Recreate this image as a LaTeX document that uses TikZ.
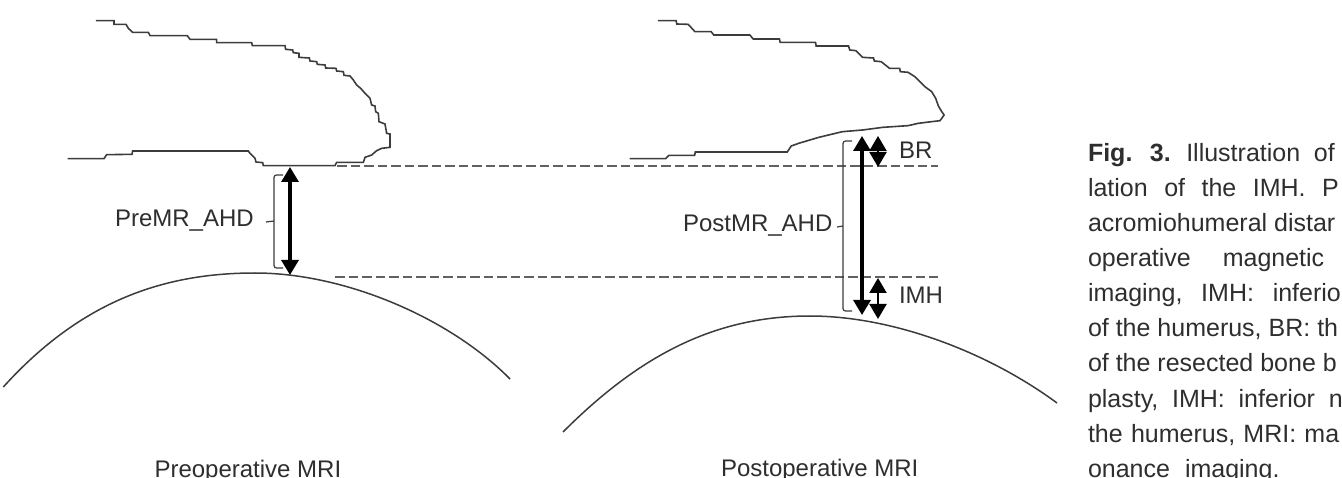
\documentclass[tikz,border=0pt]{standalone}
\usepackage{fontspec}
\setmainfont{Liberation Sans}
\usetikzlibrary{arrows.meta}
\definecolor{inkline}{HTML}{3C3C3C}
\definecolor{inktext}{HTML}{2E2E2E}
\tikzset{
  bone/.style={draw=inkline,line width=1.6pt,line join=miter},
  humerus/.style={draw=inkline,line width=1.5pt},
  level/.style={draw=black!62,line width=1.6pt,dash pattern=on 9.5pt off 4pt},
  bracketline/.style={draw=inkline,line width=1.2pt,rounded corners=2.5pt},
  bigarrow/.style={draw=black,line width=3.2pt,{Triangle[length=15pt,width=17pt]}-{Triangle[length=15pt,width=17pt]}},
  smallarrow/.style={draw=black,line width=2.2pt,{Triangle[length=15pt,width=17pt]}-{Triangle[length=15pt,width=17pt]}},
  label/.style={anchor=base west,inner sep=0pt,outer sep=0pt,text=inktext,font=\fontsize{24}{28}\selectfont},
  capt/.style={anchor=base west,inner sep=0pt,outer sep=0pt,text=inktext,font=\fontsize{25}{30}\selectfont}
}
\newcommand{\capline}[3]{\node[capt] (#1) at (1088,#2) {#3};}
\begin{document}
\begin{tikzpicture}[x=1pt,y=-1pt]
\useasboundingbox (0,0) rectangle (1342,478);
\clip (0,0) rectangle (1342,478);

% Acromion outline, preoperative (coordinates at three times pixel size)
\begin{scope}[x=0.33333pt,y=-0.33333pt]
\draw[bone] (288,62)--(342,62)--(342,73)--(378,73)--(385,85)--(398,97)--(445,97)--(450,107)--(562,107)--(570,118)--(650,118)--(650,128)--(755,128)--(757,137)--(855,137)--(857,148)--(878,150)--(880,158)--(897,160)--(897,172)--(928,174)--(930,183)--(950,185)--(952,193)--(975,195)--(977,204)--(1008,205)--(1010,213)--(1030,215)--(1032,226)--(1050,228)--(1060,240)--(1070,255)--(1082,265)--(1095,280)--(1110,295)--(1115,315)--(1125,318)--(1127,335)--(1135,340)--(1137,365)--(1155,372)--(1160,400)--(1170,402)--(1170,442)--(1145,445)--(1130,452)--(1115,465)--(1095,472)--(1090,487)--(1010,487)--(1005,497)--(790,497)--(788,488)--(768,486)--(765,475)--(750,460)--(745,453)--(398,453)--(396,463)--(320,464)--(312,476)--(203,476);
\end{scope}

% Acromion outline, postoperative
\begin{scope}[xshift=600pt,x=0.3367pt,y=-0.33333pt]
\draw[bone] (172,62)--(226,62)--(228,72)--(262,73)--(282,95)--(330,95)--(338,105)--(445,105)--(455,117)--(533,117)--(535,127)--(640,127)--(642,138)--(738,138)--(742,150)--(760,152)--(780,172)--(812,174)--(815,183)--(835,185)--(860,205)--(890,205)--(892,215)--(915,217)--(935,230)--(950,245)--(965,260)--(985,275)--(997,295)--(1005,318)--(1015,335)--(1022,345)--(1010,362)--(985,365)--(945,370)--(915,377)--(840,382)--(780,390)--(720,395)--(650,412)--(590,430)--(568,438)--(556,456)--(283,456)--(281,466)--(205,466)--(195,476)--(88,476);
\end{scope}

% Humeral heads
\draw[humerus] (3.3,387) .. controls (82,300) and (165,273) .. (255,273) .. controls (345,273) and (450,318) .. (510,379);
\draw[humerus] (563,432) .. controls (640,355) and (715,316) .. (810,316) .. controls (890,316) and (985,350) .. (1057,403);

% Reference levels
\coordinate (topL) at (337,166);
\coordinate (topR) at (938,166);
\coordinate (lowL) at (335,277);
\coordinate (lowR) at (938,277);
\draw[level] (topL) -- (topR);
\draw[level] (lowL) -- (lowR);

% Measurement arrows
\coordinate (preA) at (290,167);
\coordinate (preB) at (290,275);
\coordinate (postA) at (862,136);
\coordinate (postB) at (862,315);
\coordinate (brA) at (878,136);
\coordinate (brB) at (878,167);
\coordinate (imhA) at (878,278);
\coordinate (imhB) at (878,319);
\draw[bigarrow] (preA) -- (preB);
\draw[bigarrow] (postA) -- (postB);
\draw[smallarrow] (brA) -- (brB);
\draw[smallarrow] (imhA) -- (imhB);

% Brackets with their ticks
\coordinate (preBrA) at (283,175);
\coordinate (preBrB) at (274,175);
\coordinate (preBrC) at (274,268);
\coordinate (preBrD) at (283,268);
\coordinate (preTick) at (266,222);
\coordinate (preTickEnd) at (274,221);
\draw[bracketline] (preBrA) -- (preBrB) -- (preBrC) -- (preBrD);
\draw[bracketline] (preTick) -- (preTickEnd);
\coordinate (postBrA) at (852,141);
\coordinate (postBrB) at (843,141);
\coordinate (postBrC) at (843,311);
\coordinate (postBrD) at (852,311);
\coordinate (postTick) at (837,227);
\coordinate (postTickEnd) at (843,226);
\draw[bracketline] (postBrA) -- (postBrB) -- (postBrC) -- (postBrD);
\draw[bracketline] (postTick) -- (postTickEnd);

% Labels
\node[label] (lpre) at (115,227) {PreMR\_AHD};
\node[label] (lpost) at (683,232) {PostMR\_AHD};
\node[label] (lbr) at (899,159) {BR};
\node[label] (limh) at (899,304) {IMH};
\node[label] (tpre) at (154.5,477) {Preoperative MRI};
\node[label] (tpost) at (721,476) {Postoperative MRI};

% Caption column, running off the right edge
\capline{c1}{162}{\textbf{Fig.\hspace{0.7em}3.}\hspace{0.62em}Illustration\hspace{0.55em}of}
\capline{c2}{197}{\spaceskip=0.66em lation of the IMH. P}
\capline{c3}{232}{acromiohumeral distar}
\capline{c4}{267}{\spaceskip=1.28em operative magnetic}
\capline{c5}{302}{\spaceskip=0.75em imaging, IMH: inferio}
\capline{c6}{337}{of the humerus, BR: th}
\capline{c7}{372}{of the resected bone b}
\capline{c8}{407}{\spaceskip=0.55em plasty, IMH: inferior n}
\capline{c9}{442}{\spaceskip=0.33em the humerus, MRI: ma}
\capline{c10}{477}{\spaceskip=0.6em onance imaging.}
\end{tikzpicture}
\end{document}
